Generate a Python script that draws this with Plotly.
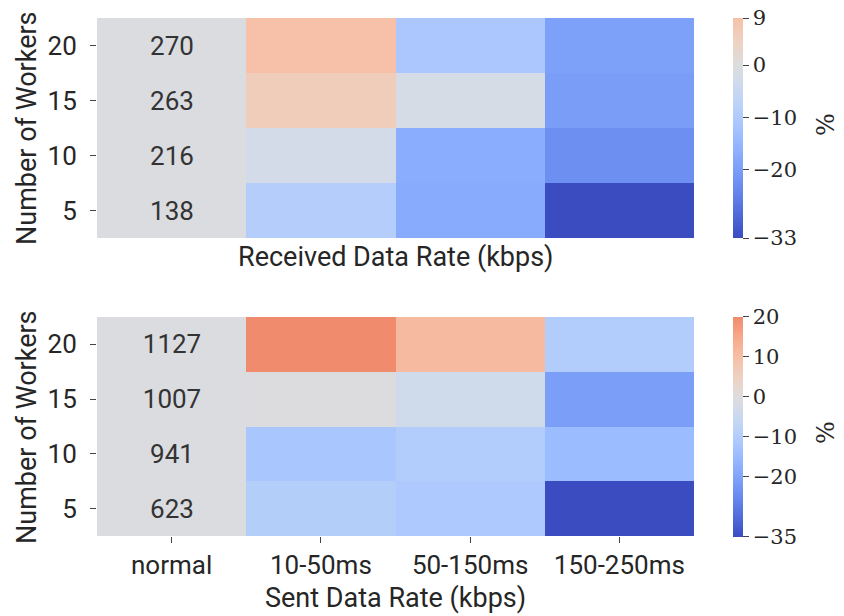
import plotly.graph_objects as go

# ---- data ----
workers = ["5", "10", "15", "20"]
delays = ["10-50ms", "50-150ms", "150-250ms"]
columns = ["normal"] + delays

recv_normal = [138, 216, 263, 270]          # kbps, rows 5,10,15,20
recv_pct = [                                 # % change vs normal, rows 5,10,15,20
    [-9.0, -17.5, -33.0],
    [-2.5, -17.0, -22.5],
    [6.0, -2.0, -20.0],
    [9.0, -11.0, -19.5],
]
sent_normal = [623, 941, 1007, 1127]
sent_pct = [
    [-9.5, -11.0, -35.0],
    [-12.0, -10.0, -14.7],
    [-0.3, -3.5, -21.0],
    [20.0, 11.0, -10.0],
]
recv_ticks = [9, 0, -10, -20, -33]
sent_ticks = [20, 10, 0, -10, -20, -35]

# ---- coolwarm (Moreland) ----
CW = [
    (0.0, 59, 76, 192), (0.03125, 68, 90, 204), (0.0625, 77, 104, 215),
    (0.09375, 87, 117, 225), (0.125, 98, 130, 234), (0.15625, 108, 142, 241),
    (0.1875, 119, 154, 247), (0.21875, 130, 165, 251), (0.25, 141, 176, 254),
    (0.28125, 152, 185, 255), (0.3125, 163, 194, 255), (0.34375, 174, 201, 253),
    (0.375, 184, 208, 249), (0.40625, 194, 213, 244), (0.4375, 204, 217, 238),
    (0.46875, 213, 219, 230), (0.5, 221, 221, 221), (0.53125, 229, 216, 209),
    (0.5625, 236, 211, 197), (0.59375, 241, 204, 185), (0.625, 245, 196, 173),
    (0.65625, 247, 187, 160), (0.6875, 247, 177, 148), (0.71875, 247, 166, 135),
    (0.75, 244, 154, 123), (0.78125, 241, 141, 111), (0.8125, 236, 127, 99),
    (0.84375, 229, 112, 88), (0.875, 222, 96, 77), (0.90625, 213, 80, 66),
    (0.9375, 203, 62, 56), (0.96875, 192, 40, 47), (1.0, 180, 4, 38),
]


def cw(t):
    t = min(max(t, 0.0), 1.0)
    for i in range(len(CW) - 1):
        a, b = CW[i], CW[i + 1]
        if a[0] <= t <= b[0]:
            f = (t - a[0]) / (b[0] - a[0])
            r, g, bb = (a[k] + f * (b[k] - a[k]) for k in (1, 2, 3))
            return f"rgb({r:.0f},{g:.0f},{bb:.0f})"
    return "rgb(180,4,38)"


def centered_scale(vmin, vmax, n=40):
    vr = max(abs(vmin), abs(vmax))
    out = []
    for i in range(n + 1):
        s = i / n
        v = vmin + s * (vmax - vmin)
        out.append([s, cw(0.5 + v / (2 * vr))])
    return out


def fmt(v):
    return str(v).replace("-", "\u2212")


GRAY = "#dadce0"
TXT = "#262626"
SANS = "Roboto"
SERIF = "DejaVu Serif"

fig = go.Figure()


def add_panel(normal, pct, ticks, xa, ya, cb_y):
    vmin, vmax = min(ticks), max(ticks)
    fig.add_trace(go.Heatmap(
        x=["normal"], y=workers, z=[[0] for _ in workers],
        text=[[str(v)] for v in normal], texttemplate="%{text}",
        textfont=dict(family=SANS, size=26, color="#333333"),
        colorscale=[[0, GRAY], [1, GRAY]], showscale=False,
        xaxis=xa, yaxis=ya, hoverinfo="skip",
    ))
    fig.add_trace(go.Heatmap(
        x=delays, y=workers, z=pct, zmin=vmin, zmax=vmax,
        colorscale=centered_scale(vmin, vmax),
        xaxis=xa, yaxis=ya,
        colorbar=dict(
            x=733 / 844, xanchor="left", xref="paper", xpad=0, ypad=0,
            y=cb_y, yanchor="middle", len=220 / 616, lenmode="fraction",
            thickness=10, outlinewidth=0,
            tickvals=ticks, ticktext=[fmt(t) for t in ticks],
            ticks="outside", ticklen=6, tickcolor="#444444",
            tickfont=dict(family=SERIF, size=21, color=TXT),
        ),
    ))


add_panel(recv_normal, recv_pct, recv_ticks, "x", "y", 1 - (18 + 238) / 2 / 616)
add_panel(sent_normal, sent_pct, sent_ticks, "x2", "y2", 1 - (317 + 536) / 2 / 616)

xdom = [97 / 844, 694 / 844]
common_x = dict(domain=xdom, type="category", categoryorder="array",
                categoryarray=columns, range=[-0.5, 3.5],
                showgrid=False, zeroline=False, showline=False)
common_y = dict(type="category", categoryorder="array", categoryarray=workers,
                range=[-0.5, 3.5], showgrid=False, zeroline=False, showline=False,
                ticks="outside", ticklen=6, tickcolor="#444444",
                tickfont=dict(family=SANS, size=26, color=TXT),
                ticklabelstandoff=8)

fig.update_layout(
    width=844, height=616,
    margin=dict(l=0, r=0, t=0, b=0),
    paper_bgcolor="white", plot_bgcolor="white",
    xaxis=dict(**common_x, anchor="y", showticklabels=False, ticks=""),
    yaxis=dict(**common_y, domain=[1 - 238 / 616, 1 - 18 / 616], anchor="x"),
    xaxis2=dict(**common_x, anchor="y2", ticks="outside", ticklen=6,
                tickcolor="#444444",
                tickfont=dict(family=SANS, size=26, color=TXT)),
    yaxis2=dict(**common_y, domain=[1 - 536 / 616, 1 - 317 / 616], anchor="x2"),
    showlegend=False,
)

ann = [
    dict(text="Received Data Rate (kbps)", x=(97 + 694) / 2 / 844, y=1 - 257 / 616),
    dict(text="Sent Data Rate (kbps)", x=(97 + 694) / 2 / 844, y=1 - 598 / 616),
    dict(text="Number of Workers", x=27 / 844, y=1 - 128 / 616, textangle=-90),
    dict(text="Number of Workers", x=27 / 844, y=1 - 427 / 616, textangle=-90),
]
for a in ann:
    fig.add_annotation(xref="paper", yref="paper", showarrow=False,
                       xanchor="center", yanchor="middle",
                       font=dict(family=SANS, size=27, color=TXT), **a)
for yc in (125, 433):
    fig.add_annotation(text="%", xref="paper", yref="paper", x=826 / 844,
                       y=1 - yc / 616, showarrow=False, textangle=-90,
                       xanchor="center", yanchor="middle",
                       font=dict(family=SERIF, size=24, color=TXT))

fig.write_html("out.html", config={"displayModeBar": False},
               post_script="document.body.style.margin='0';document.body.style.overflow='hidden';")
